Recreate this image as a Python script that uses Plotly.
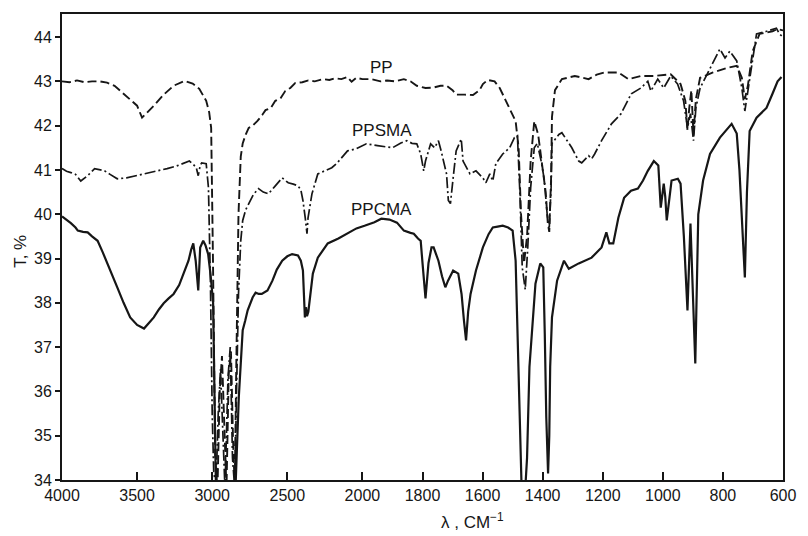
import numpy as np
import plotly.graph_objects as go

# ---------------- data (wavenumber, cm-1 ; transmittance T, %) ----------------
pp_wn = [4000, 3950, 3900, 3850, 3800, 3750, 3700, 3650, 3600, 3550, 3500, 3467, 3430, 3388, 3323, 3257,
         3185, 3130, 3086, 3040, 3020, 3007, 2995, 2980, 2965, 2950, 2935, 2920, 2905, 2890, 2875, 2862,
         2850, 2840, 2825, 2810, 2797, 2777, 2757, 2731, 2700, 2665, 2645, 2610, 2580, 2545, 2514, 2480,
         2448, 2400, 2360, 2317, 2260, 2220, 2184, 2140, 2100, 2072, 2040, 2000, 1970, 1940, 1918, 1890,
         1862, 1840, 1819, 1790, 1763, 1740, 1720, 1700, 1688, 1660, 1632, 1610, 1599, 1583, 1560, 1543,
         1525, 1510, 1490, 1480, 1472, 1462, 1452, 1440, 1428, 1415, 1400, 1390, 1383, 1378, 1372, 1369,
         1359, 1336, 1293, 1247, 1220, 1194, 1148, 1115, 1073, 1030, 974, 941, 925, 918, 912, 905, 898,
         890, 876, 833, 787, 754, 737, 727, 717, 701, 678, 635, 618, 600]
pp_t = [43.0, 42.98, 43.02, 42.98, 43.0, 43.0, 42.97, 42.9, 42.75, 42.6, 42.45, 42.18, 42.3, 42.45, 42.7, 42.9,
        43.01, 42.95, 42.83, 42.56, 42.3, 41.95, 39.0, 34.5, 33.8, 36.0, 36.8, 35.5, 33.8, 36.4, 36.9, 35.0,
        33.8, 36.5, 40.0, 41.3, 41.6, 41.8, 41.95, 42.0, 42.1, 42.25, 42.35, 42.4, 42.56, 42.62, 42.78, 42.85,
        42.96, 42.98, 43.02, 43.0, 43.05, 43.03, 43.07, 43.05, 43.1, 42.99, 43.08, 43.05, 43.05, 43.0, 43.02, 43.0,
        43.05, 43.0, 42.9, 42.85, 42.86, 42.9, 42.9, 42.8, 42.7, 42.7, 42.69, 42.8, 42.94, 43.03, 43.0, 42.85,
        42.6, 42.4, 42.1, 41.5, 40.0, 38.9, 39.5, 41.2, 42.1, 41.8, 41.0, 40.5, 39.8, 39.6, 40.8, 42.2,
        42.8, 43.05, 43.12, 43.05, 43.15, 43.2, 43.2, 43.05, 43.12, 43.12, 43.16, 42.94, 42.56, 41.9, 42.4, 42.8, 41.8,
        42.6, 43.08, 43.2, 43.3, 43.35, 43.08, 42.6, 42.9, 43.68, 44.07, 44.13, 44.18, 44.15]

ppsma_wn = [4000, 3970, 3941, 3910, 3875, 3850, 3829, 3783, 3750, 3717, 3680, 3632, 3570, 3500, 3440, 3369,
            3300, 3237, 3190, 3152, 3125, 3106, 3093, 3080, 3070, 3055, 3040, 3025, 3012, 3000, 2990, 2975,
            2960, 2945, 2930, 2915, 2895, 2880, 2865, 2850, 2838, 2825, 2810, 2797, 2777, 2757, 2725, 2692,
            2660, 2626, 2600, 2580, 2534, 2494, 2460, 2429, 2410, 2396, 2380, 2369, 2362, 2350, 2336, 2297,
            2250, 2204, 2170, 2139, 2099, 2039, 1987, 1950, 1918, 1900, 1872, 1852, 1835, 1819, 1806, 1796,
            1790, 1773, 1760, 1747, 1738, 1720, 1714, 1707, 1698, 1688, 1671, 1665, 1642, 1622, 1599, 1589,
            1576, 1566, 1556, 1533, 1510, 1494, 1484, 1476, 1468, 1458, 1450, 1440, 1428, 1418, 1405, 1395,
            1385, 1378, 1372, 1369, 1346, 1336, 1303, 1280, 1270, 1247, 1237, 1227, 1204, 1171, 1139, 1105,
            1073, 1050, 1040, 1017, 997, 974, 951, 931, 918, 908, 898, 890, 876, 852, 833, 810, 793, 777,
            754, 737, 727, 711, 688, 655, 622, 612, 600]
ppsma_t = [41.03, 40.97, 40.94, 40.9, 40.75, 40.82, 40.87, 41.03, 41.0, 40.98, 40.9, 40.8, 40.82, 40.87, 40.92, 40.98,
           41.03, 41.09, 41.15, 41.2, 41.12, 41.05, 40.87, 41.1, 41.16, 41.15, 41.14, 40.6, 38.5, 35.5, 34.2, 33.8,
           35.5, 36.5, 35.3, 33.8, 36.3, 37.0, 34.5, 33.8, 36.0, 38.2, 39.4, 39.86, 40.1, 40.24, 40.45, 40.58,
           40.5, 40.46, 40.55, 40.64, 40.82, 40.71, 40.68, 40.64, 40.55, 40.31, 39.9, 39.56, 39.92, 40.2, 40.46, 40.91,
           40.98, 41.05, 41.15, 41.27, 41.43, 41.48, 41.59, 41.55, 41.52, 41.5, 41.61, 41.66, 41.6, 41.59, 41.36, 40.98,
           41.2, 41.59, 41.5, 41.66, 41.43, 40.91, 40.31, 40.24, 40.82, 41.43, 41.7, 41.2, 40.91, 40.98, 40.82, 40.71,
           40.91, 40.75, 41.14, 41.36, 41.5, 41.73, 41.77, 40.5, 38.8, 38.3, 39.2, 40.6, 41.5, 41.6, 41.2, 40.8,
           40.0, 39.7, 40.6, 41.6, 41.8, 41.84, 41.5, 41.2, 41.16, 41.32, 41.25, 41.36, 41.66, 42.04, 42.27, 42.72,
           42.85, 43.0, 42.78, 43.05, 42.85, 43.12, 42.94, 42.56, 41.95, 42.27, 41.66, 42.4, 42.85, 43.16, 43.41, 43.73, 43.53, 43.68,
           43.46, 42.85, 42.33, 43.0, 44.07, 44.13, 44.2, 44.07, 44.0]

ppcma_wn = [4000, 3970, 3941, 3910, 3895, 3860, 3829, 3800, 3763, 3730, 3698, 3665, 3632, 3590, 3546, 3500,
            3454, 3420, 3389, 3355, 3323, 3290, 3257, 3220, 3191, 3158, 3140, 3126, 3110, 3093, 3080, 3060,
            3045, 3027, 3010, 2994, 2985, 2975, 2850, 2843, 2823, 2797, 2780, 2764, 2731, 2711, 2690, 2670,
            2632, 2599, 2570, 2534, 2500, 2468, 2429, 2410, 2396, 2388, 2383, 2376, 2369, 2360, 2350, 2330,
            2297, 2260, 2231, 2160, 2099, 2040, 1993, 1960, 1937, 1910, 1885, 1870, 1862, 1840, 1829, 1815,
            1806, 1800, 1790, 1780, 1770, 1763, 1747, 1735, 1724, 1715, 1698, 1681, 1670, 1662, 1655, 1648,
            1640, 1622, 1599, 1580, 1566, 1550, 1533, 1515, 1500, 1490, 1480, 1470, 1458, 1452, 1444, 1432,
            1424, 1408, 1398, 1393, 1388, 1382, 1378, 1375, 1369, 1352, 1329, 1313, 1280, 1237, 1204, 1188,
            1178, 1165, 1148, 1129, 1106, 1083, 1066, 1050, 1030, 1015, 1007, 997, 992, 987, 971, 950,
            941, 930, 918, 908, 900, 892, 882, 866, 843, 810, 771, 754, 745, 737, 727, 720, 711, 688,
            655, 635, 618, 605]
ppcma_t = [39.95, 39.88, 39.8, 39.7, 39.63, 39.6, 39.59, 39.5, 39.4, 39.15, 38.9, 38.6, 38.35, 38.0, 37.67, 37.5,
           37.42, 37.55, 37.67, 37.85, 37.99, 38.1, 38.2, 38.4, 38.66, 38.95, 39.2, 39.34, 38.95, 38.28, 39.25, 39.4,
           39.3, 39.1, 38.6, 38.0, 36.0, 33.8, 33.8, 34.0, 35.87, 37.38, 37.6, 37.83, 38.12, 38.23, 38.2, 38.2,
           38.28, 38.5, 38.75, 38.95, 39.05, 39.1, 39.07, 38.95, 38.73, 38.0, 37.67, 37.9, 37.7, 37.8, 38.05, 38.66,
           39.02, 39.2, 39.34, 39.45, 39.56, 39.68, 39.74, 39.82, 39.9, 39.88, 39.81, 39.7, 39.63, 39.58, 39.56, 39.45,
           39.4, 38.9, 38.1, 38.9, 39.25, 39.25, 38.95, 38.6, 38.35, 38.5, 38.73, 38.66, 38.2, 37.6, 37.15, 37.8,
           38.2, 38.73, 39.25, 39.55, 39.7, 39.72, 39.74, 39.7, 39.63, 38.95, 36.0, 33.8, 33.8, 34.5, 36.55, 37.8,
           38.43, 38.89, 38.8, 37.3, 35.42, 34.15, 35.0, 36.55, 37.67, 38.5, 38.95, 38.77, 38.89, 39.02, 39.25, 39.59,
           39.34, 39.34, 39.92, 40.37, 40.53, 40.58, 40.76, 40.98, 41.2, 41.1, 40.15, 40.69, 40.4, 39.86, 40.76, 40.8,
           40.69, 39.5, 37.83, 39.79, 38.0, 36.63, 40.0, 40.76, 41.36, 41.73, 42.04, 41.82, 41.0, 39.86, 38.57, 40.5, 41.88, 42.18,
           42.4, 42.72, 43.0, 43.1]

x_ticks = [4000, 3500, 3000, 2500, 2000, 1800, 1600, 1400, 1200, 1000, 800, 600]
y_ticks = [34, 35, 36, 37, 38, 39, 40, 41, 42, 43, 44]


# IR chart scale: 500 cm-1 per division above 2000, doubled scale below 2000
def scale(wn):
    wn = np.asarray(wn, dtype=float)
    return np.where(wn >= 2000, 4000 - wn, 2000 + 2 * (2000 - wn))


INK = "#161616"
fig = go.Figure()
fig.add_trace(go.Scatter(x=scale(pp_wn), y=pp_t, mode="lines", name="PP",
                         line=dict(color=INK, width=1.9, dash="9px,4px")))
fig.add_trace(go.Scatter(x=scale(ppsma_wn), y=ppsma_t, mode="lines", name="PPSMA",
                         line=dict(color=INK, width=1.7, dash="11px,3px,2px,3px")))
fig.add_trace(go.Scatter(x=scale(ppcma_wn), y=ppcma_t, mode="lines", name="PPCMA",
                         line=dict(color=INK, width=2.2)))

lab_font = dict(family="Liberation Sans, Arial, sans-serif", size=17, color=INK)
for name, wn, t in [("PP", 1935, 43.32), ("PPSMA", 1935, 41.9), ("PPCMA", 1935, 40.1)]:
    fig.add_annotation(x=float(scale(wn)), y=t, text=name, showarrow=False,
                       font=lab_font, xanchor="center", yanchor="middle")

fig.add_annotation(xref="paper", yref="paper", x=0.57, y=-0.088, text="λ , CM<sup>−1</sup>",
                   showarrow=False, font=lab_font, xanchor="center", yanchor="middle")
fig.add_annotation(xref="paper", yref="paper", x=-0.058, y=0.49, text="T, %", textangle=-90,
                   showarrow=False, font=lab_font, xanchor="center", yanchor="middle")

fig.update_layout(
    width=808, height=536,
    margin=dict(l=62, r=15, t=13, b=56),
    paper_bgcolor="white", plot_bgcolor="white",
    showlegend=False,
    font=dict(family="Liberation Sans, Arial, sans-serif", size=16, color=INK),
)
fig.update_xaxes(range=[0, 4800], tickvals=list(scale(x_ticks)), ticktext=[str(v) for v in x_ticks],
                 ticks="inside", ticklen=8, tickwidth=1.5, tickcolor=INK,
                 showline=True, linecolor=INK, linewidth=1.8, mirror=True,
                 showgrid=False, zeroline=False, tickfont=dict(size=16))
fig.update_yaxes(range=[34, 44.52], tickvals=y_ticks,
                 ticks="outside", ticklen=5, tickwidth=1.5, tickcolor=INK,
                 showline=True, linecolor=INK, linewidth=1.8, mirror=True,
                 showgrid=False, zeroline=False, tickfont=dict(size=16))

fig.write_html("out.html")
